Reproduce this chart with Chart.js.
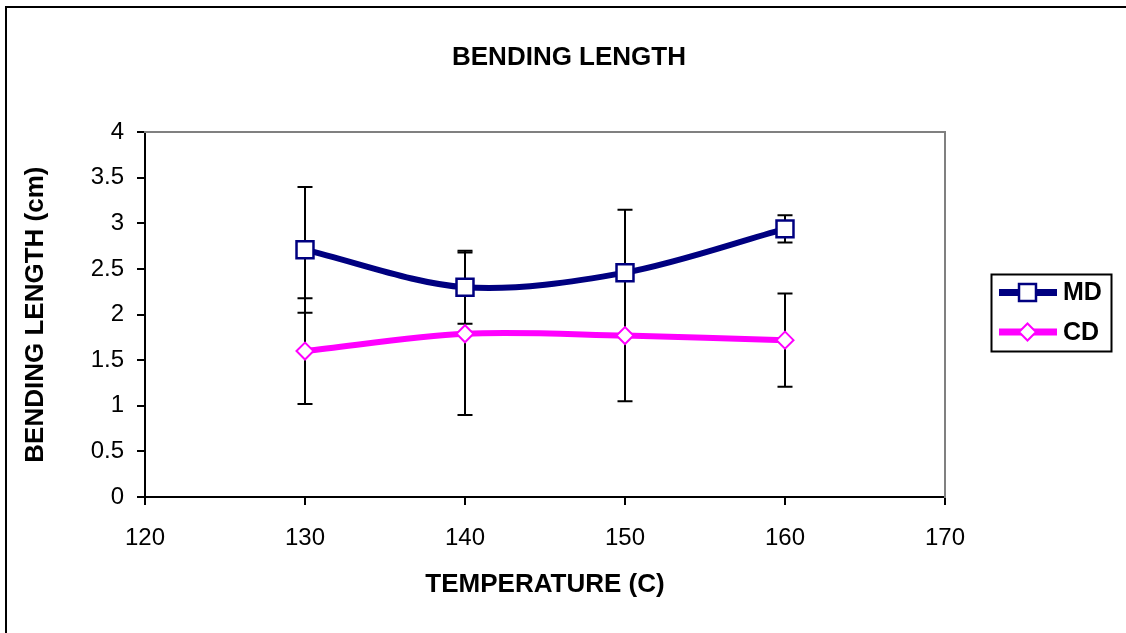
<!DOCTYPE html>
<html>
<head>
<meta charset="utf-8">
<script src="https://cdn.jsdelivr.net/npm/chart.js@4.4.1/dist/chart.umd.min.js"></script>
<style>
  html, body { margin: 0; padding: 0; background: #fff; }
  #wrap { width: 1126px; height: 633px; position: relative; }
</style>
</head>
<body>
<div id="wrap"><canvas id="c" width="1126" height="633"></canvas></div>
<script>
// Bending length (cm) measured at each temperature, with the spread shown as error bars
const temperatures = [130, 140, 150, 160];
const mdValues = [2.71, 2.30, 2.46, 2.94];
const mdErrors = [0.69, 0.40, 0.69, 0.15];
const cdValues = [1.60, 1.79, 1.77, 1.72];
const cdErrors = [0.58, 0.89, 0.72, 0.51];
const xTickValues = [120, 130, 140, 150, 160, 170];
const yTickValues = [0, 0.5, 1, 1.5, 2, 2.5, 3, 3.5, 4];

const FONT = "'Liberation Sans', Arial, sans-serif";

const toPoints = (xs, ys) => xs.map((x, i) => ({ x: x, y: ys[i] }));

// Vertical error bars with caps, drawn beneath the lines and markers
const errorBars = {
  id: 'errorBars',
  beforeDatasetsDraw(chart) {
    const { ctx, scales: { x, y } } = chart;
    ctx.save();
    ctx.strokeStyle = '#000';
    ctx.lineWidth = 2;
    chart.data.datasets.forEach(ds => {
      ds.data.forEach((p, i) => {
        const e = ds.errors[i];
        const px = x.getPixelForValue(p.x);
        const top = y.getPixelForValue(p.y + e);
        const bot = y.getPixelForValue(p.y - e);
        ctx.beginPath();
        ctx.moveTo(px, top); ctx.lineTo(px, bot);
        ctx.moveTo(px - 7.5, top); ctx.lineTo(px + 7.5, top);
        ctx.moveTo(px - 7.5, bot); ctx.lineTo(px + 7.5, bot);
        ctx.stroke();
      });
    });
    ctx.restore();
  }
};

// Boxed legend at the right, each entry a line sample with its marker
const boxedLegend = {
  id: 'boxedLegend',
  afterDraw(chart) {
    const ctx = chart.ctx;
    ctx.save();
    ctx.strokeStyle = '#000';
    ctx.lineWidth = 2;
    ctx.strokeRect(991.5, 274.5, 120, 77);
    chart.data.datasets.forEach((ds, i) => {
      const cy = 292.5 + i * 39.5;
      ctx.strokeStyle = ds.borderColor;
      ctx.lineWidth = 7;
      ctx.beginPath();
      ctx.moveTo(999, cy); ctx.lineTo(1057, cy);
      ctx.stroke();
      ctx.fillStyle = ds.pointBackgroundColor;
      ctx.strokeStyle = ds.pointBorderColor;
      ctx.lineWidth = ds.pointBorderWidth;
      Chart.helpers.drawPoint(ctx, {
        pointStyle: ds.pointStyle,
        radius: ds.pointRadius,
        borderWidth: ds.pointBorderWidth,
        rotation: 0
      }, 1027.5, cy);
      ctx.fillStyle = '#000';
      ctx.font = 'bold 25px ' + FONT;
      ctx.textBaseline = 'middle';
      ctx.textAlign = 'left';
      ctx.fillText(ds.label, 1063, cy + 1);
    });
    ctx.restore();
  }
};

// Outer frame along the left and top edges
const outerFrame = {
  id: 'outerFrame',
  afterDraw(chart) {
    const ctx = chart.ctx;
    ctx.save();
    ctx.fillStyle = '#000';
    ctx.fillRect(5, 6, 1121, 2);
    ctx.fillRect(5, 6, 2, 627);
    ctx.restore();
  }
};

const tickGrid = {
  display: true, drawOnChartArea: false, drawTicks: true,
  tickLength: 8, color: '#000', lineWidth: 2
};

new Chart(document.getElementById('c'), {
  type: 'line',
  data: {
    datasets: [
      {
        label: 'MD',
        data: toPoints(temperatures, mdValues),
        errors: mdErrors,
        borderColor: '#000080',
        borderWidth: 6,
        tension: 0.32,
        pointStyle: 'rect',
        pointRadius: 12,
        pointBorderWidth: 2.5,
        pointBorderColor: '#000080',
        pointBackgroundColor: '#fff',
        xAxisID: 'x', yAxisID: 'y'
      },
      {
        label: 'CD',
        data: toPoints(temperatures, cdValues),
        errors: cdErrors,
        borderColor: '#FF00FF',
        borderWidth: 6,
        tension: 0.32,
        pointStyle: 'rectRot',
        pointRadius: 8.5,
        pointBorderWidth: 2,
        pointBorderColor: '#FF00FF',
        pointBackgroundColor: '#fff',
        xAxisID: 'x', yAxisID: 'y'
      }
    ]
  },
  options: {
    responsive: false,
    animation: false,
    devicePixelRatio: 1,
    layout: { padding: { left: 12, right: 0, top: 0, bottom: 0 } },
    plugins: {
      legend: { display: false },
      tooltip: { enabled: false },
      title: {
        display: true,
        text: 'BENDING LENGTH',
        color: '#000',
        font: { family: FONT, size: 26, weight: 'bold' },
        padding: { top: 42, bottom: 59 }
      }
    },
    scales: {
      x: {
        type: 'linear',
        position: 'bottom',
        min: 120, max: 170,
        afterBuildTicks: s => { s.ticks = xTickValues.map(v => ({ value: v })); },
        afterFit: s => { s.height = 136; },
        ticks: { color: '#000', font: { family: FONT, size: 24 }, padding: 19, maxRotation: 0,
                 callback: v => String(v) },
        grid: tickGrid,
        border: { display: true, color: '#000', width: 2 },
        title: {
          display: true, text: 'TEMPERATURE (C)', color: '#000',
          font: { family: FONT, size: 26, weight: 'bold' },
          padding: { top: 0, bottom: 33 }
        }
      },
      y: {
        type: 'linear',
        position: 'left',
        min: 0, max: 4,
        afterBuildTicks: s => { s.ticks = yTickValues.map(v => ({ value: v })); },
        afterFit: s => { s.width = 133; },
        ticks: { color: '#000', font: { family: FONT, size: 24 }, padding: 13,
                 callback: v => String(v) },
        grid: tickGrid,
        border: { display: true, color: '#000', width: 2 },
        title: {
          display: true, text: 'BENDING LENGTH (cm)', color: '#000',
          font: { family: FONT, size: 26, weight: 'bold' },
          padding: { top: 8, bottom: 0 }
        }
      },
      x2: {
        type: 'linear',
        position: 'top',
        min: 0, max: 1,
        afterFit: s => { s.height = 0; },
        ticks: { display: false },
        grid: { display: false },
        border: { display: true, color: '#808080', width: 2 }
      },
      y2: {
        type: 'linear',
        position: 'right',
        min: 0, max: 1,
        afterFit: s => { s.width = 181; },
        ticks: { display: false },
        grid: { display: false },
        border: { display: true, color: '#808080', width: 2 }
      }
    }
  },
  plugins: [errorBars, boxedLegend, outerFrame]
});
</script>
</body>
</html>
